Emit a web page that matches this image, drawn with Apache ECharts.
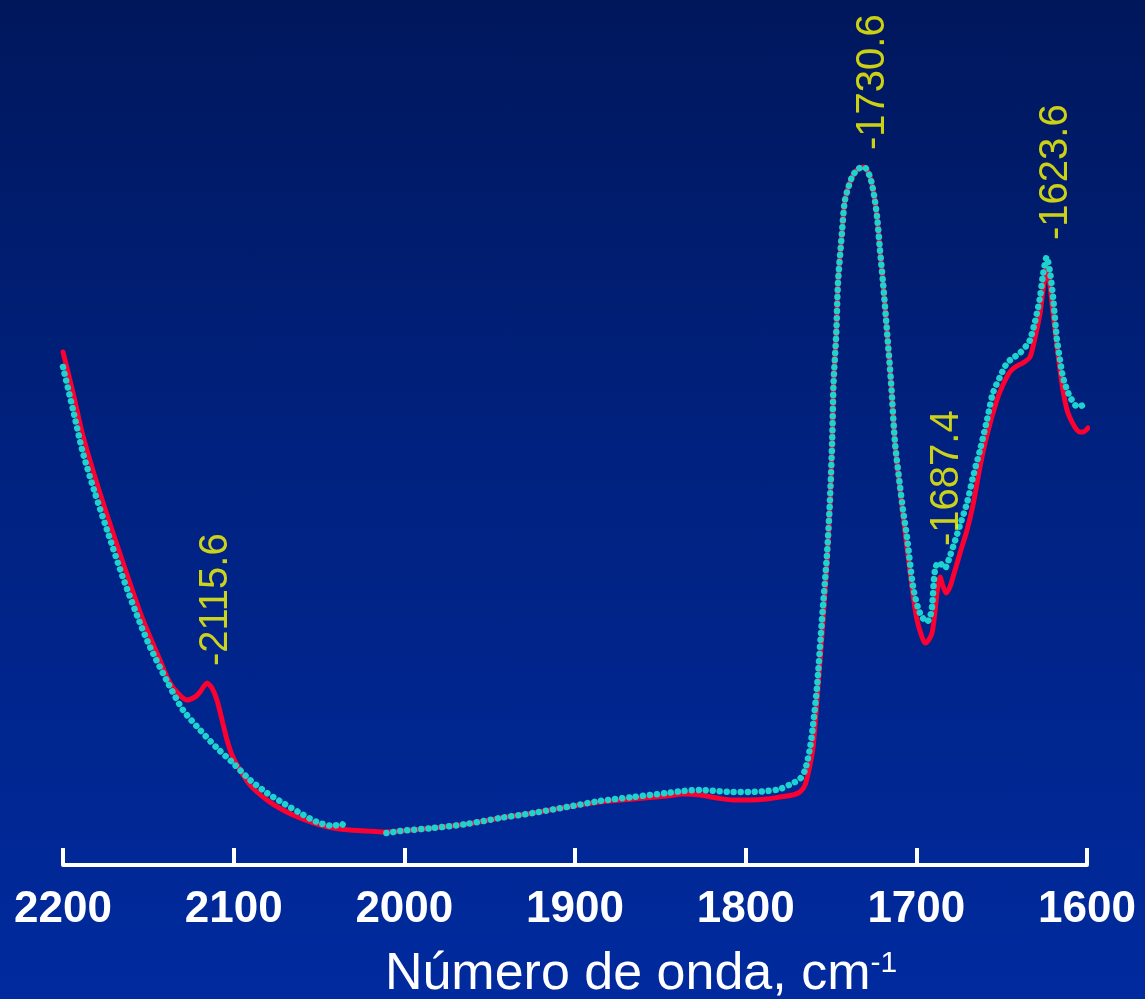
<!DOCTYPE html>
<html>
<head>
<meta charset="utf-8">
<script src="https://cdn.jsdelivr.net/npm/echarts@6/dist/echarts.min.js"></script>
<style>
  html, body { margin: 0; padding: 0; }
  #chart {
    width: 1145px;
    height: 999px;
    background: linear-gradient(to bottom, #00175c 0%, #00217f 45%, #002a9e 100%);
  }
</style>
</head>
<body>
<div id="chart"></div>
<script>
// FTIR spectra, 2200-1600 cm-1 (absorbance, arbitrary units)

// Sample A (red trace)
const sampleAWn = [
  2200, 2194.1, 2188.3, 2181.3, 2174.2, 2164.8, 2154.9, 2149.0, 2143.2, 2139.1,
  2134.4, 2127.4, 2122.7, 2119.7, 2115.6, 2112.7, 2109.8, 2106.8, 2103.9, 2101.0,
  2098.0, 2090.4, 2080.5, 2071.1, 2061.1, 2051.2, 2041.8, 2031.8, 2021.9, 2012.5,
  2002.5, 1983.2, 1963.3, 1943.9, 1924.6, 1904.7, 1885.4, 1866.0, 1846.1, 1836.7,
  1826.8, 1816.8, 1807.4, 1797.5, 1787.5, 1779.9, 1772.3, 1768.2, 1765.2, 1762.3,
  1760.5, 1758.2, 1755.3, 1752.3, 1750.6, 1749.3, 1748.5, 1746.9, 1745.9, 1743.6,
  1741.8, 1737.7, 1734.2, 1730.6, 1727.1, 1724.8, 1723.0, 1721.3, 1719.5, 1717.1,
  1714.8, 1712.5, 1709.5, 1705.5, 1701.9, 1699.6, 1696.7, 1694.9, 1693.2, 1690.8,
  1689.1, 1687.9, 1686.1, 1684.4, 1682.6, 1680.3, 1678.5, 1674.4, 1670.3, 1666.8,
  1662.7, 1658.6, 1652.8, 1649.3, 1645.2, 1641.1, 1637.6, 1633.4, 1630.5, 1627.5,
  1625.8, 1623.6, 1621.7, 1619.9, 1617.6, 1615.8, 1614.1, 1611.7, 1608.8, 1605.9,
  1604.1, 1602.3, 1599.4
];
const sampleAAbs = [
  0.513, 0.472, 0.429, 0.388, 0.350, 0.302, 0.253, 0.228, 0.205, 0.188,
  0.175, 0.165, 0.168, 0.173, 0.182, 0.177, 0.165, 0.145, 0.125, 0.110,
  0.100, 0.080, 0.065, 0.055, 0.047, 0.041, 0.037, 0.035, 0.034, 0.033,
  0.034, 0.037, 0.041, 0.047, 0.052, 0.058, 0.063, 0.066, 0.069, 0.071,
  0.070, 0.067, 0.065, 0.065, 0.066, 0.068, 0.070, 0.073, 0.080, 0.100,
  0.118, 0.165, 0.230, 0.305, 0.360, 0.425, 0.482, 0.532, 0.582, 0.632,
  0.665, 0.688, 0.696, 0.698, 0.688, 0.670, 0.648, 0.615, 0.582, 0.532,
  0.482, 0.422, 0.375, 0.318, 0.270, 0.245, 0.228, 0.222, 0.224, 0.232,
  0.253, 0.272, 0.288, 0.279, 0.272, 0.278, 0.288, 0.312, 0.335, 0.360,
  0.398, 0.430, 0.465, 0.480, 0.493, 0.499, 0.502, 0.508, 0.527, 0.552,
  0.575, 0.598, 0.580, 0.552, 0.520, 0.495, 0.475, 0.455, 0.443, 0.435,
  0.433, 0.433, 0.437
];

// Sample B (cyan dotted trace); '-' marks a break in the record
const sampleBWn = [
  2200, 2194.1, 2188.3, 2181.3, 2174.2, 2164.8, 2154.9, 2149.0, 2139.1, 2129.7,
  2119.7, 2109.8, 2100.4, 2090.4, 2080.5, 2071.1, 2061.1, 2051.2, 2041.8, 2037.0,
  2034.0, 2023.0, 2010.5, 2002.5, 1983.2, 1963.3, 1943.9, 1924.6, 1904.7, 1885.4,
  1866.0, 1846.1, 1836.7, 1826.8, 1816.8, 1807.4, 1797.5, 1787.5, 1779.9, 1772.3,
  1768.2, 1765.2, 1762.3, 1760.5, 1758.2, 1755.3, 1752.3, 1750.6, 1749.3, 1748.5,
  1746.9, 1745.9, 1743.6, 1741.8, 1737.7, 1734.2, 1730.6, 1727.1, 1724.8, 1723.0,
  1721.3, 1719.5, 1717.1, 1714.8, 1712.5, 1709.5, 1707.8, 1705.5, 1701.9, 1699.0,
  1696.7, 1693.8, 1692.0, 1690.8, 1689.1, 1687.4, 1686.1, 1684.4, 1683.2, 1680.3,
  1678.5, 1674.4, 1670.3, 1666.8, 1662.7, 1658.6, 1655.1, 1651.0, 1646.9, 1643.4,
  1639.3, 1635.2, 1633.4, 1630.5, 1627.5, 1625.8, 1623.6, 1621.7, 1619.9, 1617.6,
  1615.8, 1614.1, 1611.7, 1609.9, 1607.0, 1605.3, 1602.3
];
const sampleBAbs = [
  0.498, 0.455, 0.412, 0.372, 0.335, 0.287, 0.242, 0.218, 0.184, 0.155,
  0.135, 0.117, 0.102, 0.085, 0.072, 0.062, 0.052, 0.043, 0.039, 0.041,
  0.038, '-', 0.032, 0.034, 0.037, 0.041, 0.047, 0.052, 0.058, 0.064,
  0.068, 0.072, 0.074, 0.075, 0.074, 0.073, 0.073, 0.074, 0.076, 0.082,
  0.086, 0.095, 0.117, 0.140, 0.178, 0.245, 0.312, 0.365, 0.425, 0.482,
  0.532, 0.582, 0.632, 0.665, 0.688, 0.696, 0.698, 0.688, 0.670, 0.648,
  0.615, 0.582, 0.532, 0.482, 0.422, 0.378, 0.355, 0.328, 0.278, 0.257,
  0.248, 0.243, 0.248, 0.258, 0.295, 0.302, 0.302, 0.298, 0.297, 0.309,
  0.318, 0.340, 0.362, 0.388, 0.415, 0.445, 0.472, 0.488, 0.502, 0.507,
  0.512, 0.520, 0.525, 0.543, 0.568, 0.590, 0.608, 0.593, 0.568, 0.525,
  0.505, 0.488, 0.475, 0.468, 0.460, 0.458, 0.460
];

// Annotated band positions and the trace each one is read from
const peakWn = [2115.6, 1730.6, 1687.4, 1623.6];
const peakTrace = ['A', 'B', 'B', 'B'];

// Axis ticks
const xMin = 1600, xMax = 2200, xStep = 100;

const traces = {
  A: { wn: sampleAWn, abs: sampleAAbs },
  B: { wn: sampleBWn, abs: sampleBAbs }
};
const pairs = (wn, abs) => wn.map((w, i) => [w, abs[i]]);
const peakPoints = peakWn.map((w, i) => {
  const t = traces[peakTrace[i]];
  return [w, t.abs[t.wn.indexOf(w)]];
});

const FONT = '"Liberation Sans", Arial, Helvetica, sans-serif';

const chart = echarts.init(document.getElementById('chart'), null, { renderer: 'canvas' });
chart.setOption({
  backgroundColor: 'transparent',
  animation: false,
  grid: { left: 63, right: 58, top: 65, bottom: 134, containLabel: false, outerBoundsMode: 'none' },
  xAxis: {
    type: 'value',
    min: xMin,
    max: xMax,
    interval: xStep,
    inverse: true,
    axisLine: { show: true, lineStyle: { color: '#ffffff', width: 4 } },
    axisTick: { show: true, inside: true, length: 17, lineStyle: { color: '#ffffff', width: 4 } },
    splitLine: { show: false },
    axisLabel: {
      color: '#ffffff',
      fontSize: 44,
      fontWeight: 'bold',
      fontFamily: FONT,
      margin: 23,
      formatter: (v) => String(v)
    },
    name: '{t|Número de onda, cm}{s|-1}',
    nameLocation: 'middle',
    nameGap: 84,
    nameTextStyle: {
      color: '#ffffff',
      fontFamily: FONT,
      padding: [0, 0, 0, 132],
      rich: {
        t: { fontSize: 52, color: '#ffffff', fontFamily: FONT },
        s: { fontSize: 30, color: '#ffffff', fontFamily: FONT, verticalAlign: 'top' }
      }
    }
  },
  yAxis: {
    type: 'value',
    min: 0,
    max: 0.8,
    show: false
  },
  series: [
    {
      name: 'Muestra A',
      type: 'line',
      data: pairs(sampleAWn, sampleAAbs),
      showSymbol: false,
      smooth: 0.25,
      lineStyle: { color: '#fb0030', width: 5, cap: 'round', join: 'round' },
      z: 2
    },
    {
      name: 'Muestra B',
      type: 'line',
      data: pairs(sampleBWn, sampleBAbs),
      showSymbol: false,
      smooth: 0.25,
      connectNulls: false,
      lineStyle: { color: '#1ed3cf', width: 6.5, type: [0.01, 7], cap: 'round' },
      z: 3
    },
    {
      name: 'Bandas',
      type: 'scatter',
      data: peakPoints,
      symbolSize: 0,
      silent: true,
      z: 4,
      label: {
        show: true,
        position: 'top',
        distance: 17,
        rotate: 90,
        align: 'left',
        verticalAlign: 'middle',
        offset: [0, 9],
        color: '#ffff00',
        fontSize: 40,
        fontFamily: FONT,
        formatter: (p) => '-' + p.value[0].toFixed(1)
      }
    }
  ]
});
</script>
</body>
</html>
